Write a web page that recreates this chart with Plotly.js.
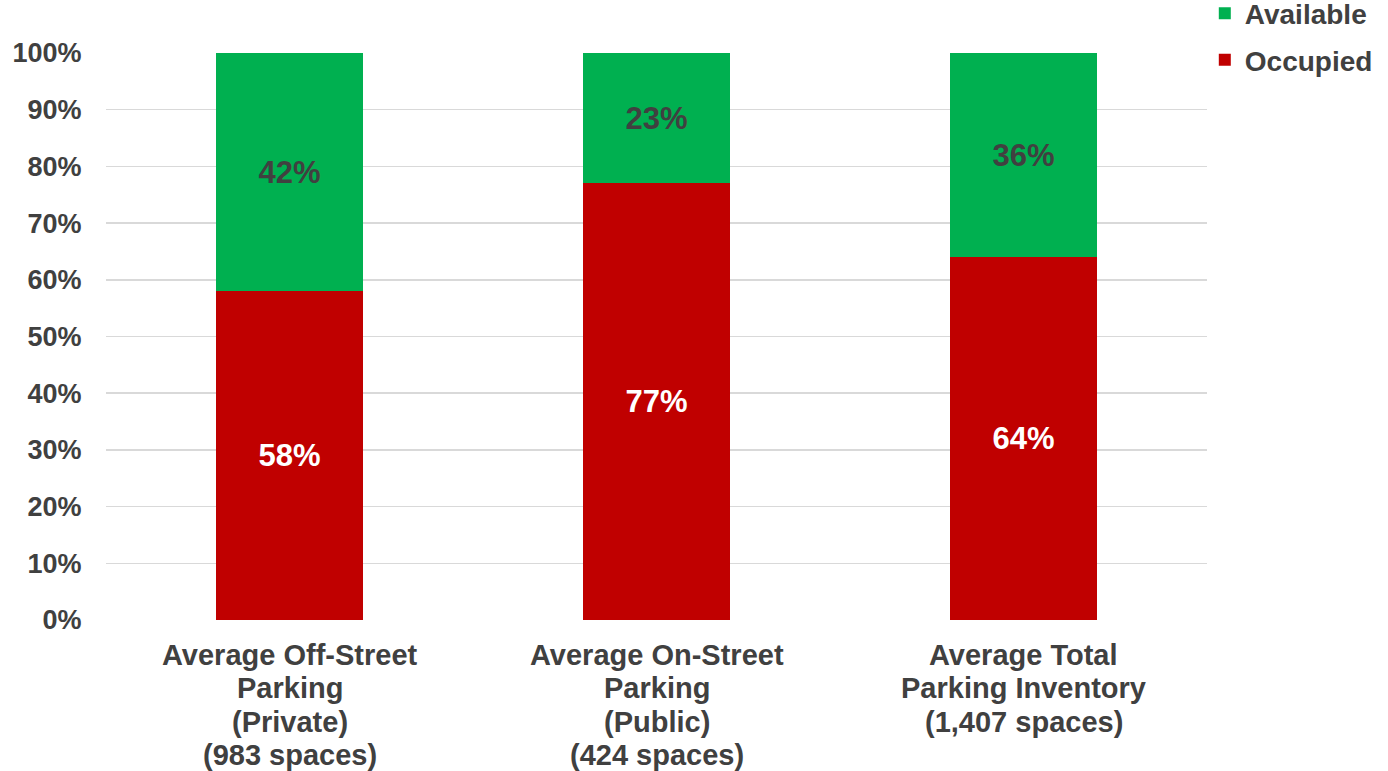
<!DOCTYPE html>
<html>
<head>
<meta charset="utf-8">
<script src="https://cdn.plot.ly/plotly-3.0.1.min.js"></script>
<style>html,body{margin:0;padding:0;background:#fff;}#chart{width:1388px;height:771px;}</style>
</head>
<body>
<div id="chart"></div>
<script>
const categories = [
  "Average Off-Street Parking (Private)",
  "Average On-Street Parking (Public)",
  "Average Total Parking Inventory"
];
const categoryLabelLines = [
  ["Average Off-Street", "Parking", "(Private)", "(983 spaces)"],
  ["Average On-Street", "Parking", "(Public)", "(424 spaces)"],
  ["Average Total", "Parking Inventory", "(1,407 spaces)"]
];
const occupied = [0.58, 0.77, 0.64];
const available = [0.42, 0.23, 0.36];
const yTickVals = [0, 0.1, 0.2, 0.3, 0.4, 0.5, 0.6, 0.7, 0.8, 0.9, 1.0];

const FONT = "Liberation Sans, Arial, sans-serif";
const TXT = "#404040";

const traces = [
  {
    type: "bar", name: "Occupied", x: categories, y: occupied,
    marker: {color: "#C00000"}, width: 0.4,
    texttemplate: "%{y:.0%}", textposition: "inside", insidetextanchor: "middle",
    constraintext: "none",
    textfont: {family: FONT, size: 31, color: "#FFFFFF", weight: "bold"},
    legendgroup: "o", legendrank: 2, hoverinfo: "skip"
  },
  {
    type: "bar", name: "Available", x: categories, y: available,
    marker: {color: "#00B050"}, width: 0.4,
    texttemplate: "%{y:.0%}", textposition: "inside", insidetextanchor: "middle",
    constraintext: "none",
    textfont: {family: FONT, size: 31, color: TXT, weight: "bold"},
    legendgroup: "a", legendrank: 1, hoverinfo: "skip"
  }
];

const annotations = [];
categoryLabelLines.forEach((lines, ci) => {
  lines.forEach((line, li) => {
    annotations.push({
      x: categories[ci], xref: "x", y: 0, yref: "paper",
      yanchor: "middle", xanchor: "center",
      yshift: -(35 + li * 33.3),
      text: line, showarrow: false,
      font: {family: FONT, size: 29, color: TXT, weight: "bold"}
    });
  });
});

const layout = {
  width: 1388, height: 771,
  margin: {l: 106, r: 181, t: 53, b: 151, autoexpand: false},
  paper_bgcolor: "#fff", plot_bgcolor: "#fff",
  barmode: "stack",
  font: {family: FONT, color: TXT, size: 27, weight: "bold"},
  showlegend: true,
  legend: {
    x: 0.998, xanchor: "left", y: 1.1135, yanchor: "top",
    traceorder: "grouped", tracegroupgap: 7,
    font: {family: FONT, size: 28, color: TXT, weight: "bold"},
    itemwidth: 30, bgcolor: "rgba(0,0,0,0)"
  },
  annotations: annotations,
  xaxis: {
    showticklabels: false, ticks: "",
    showline: false, showgrid: false, zeroline: false
  },
  yaxis: {
    range: [0, 1], tickvals: yTickVals, tickformat: ".0%",
    tickfont: {family: FONT, size: 27, color: TXT, weight: "bold"},
    ticks: "outside", ticklen: 18, tickcolor: "rgba(0,0,0,0)",
    showgrid: true, gridcolor: "#D9D9D9", gridwidth: 1.5,
    zeroline: false, showline: false
  }
};

Plotly.newPlot("chart", traces, layout, {displayModeBar: false, staticPlot: true});
</script>
</body>
</html>
